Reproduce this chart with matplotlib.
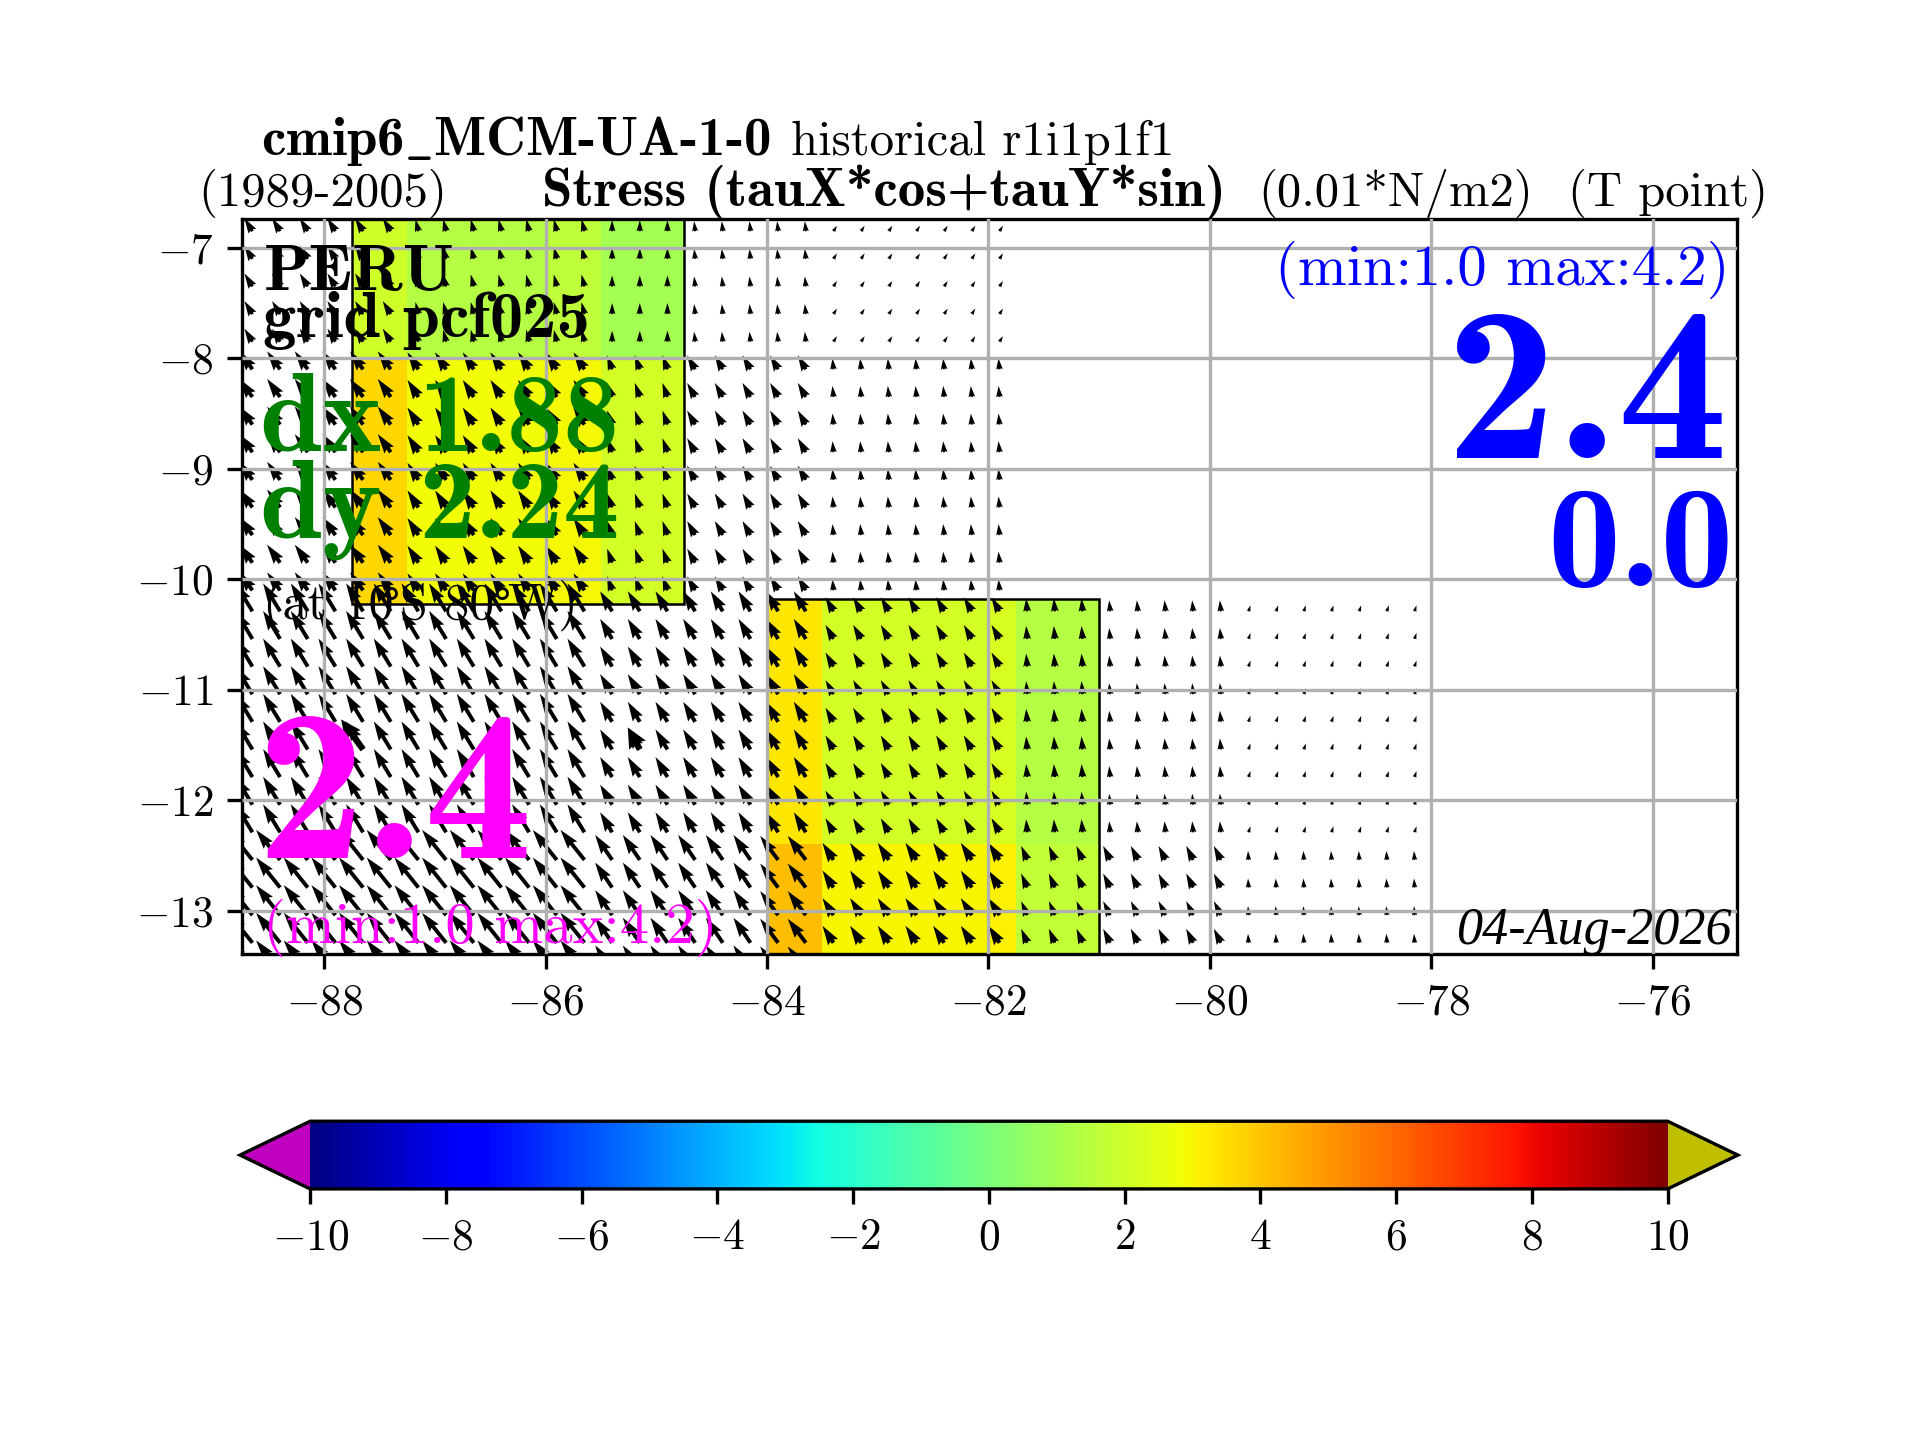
import numpy as np
import matplotlib
matplotlib.use("Agg")
import matplotlib.pyplot as plt
from matplotlib.patches import Rectangle

plt.rcParams['mathtext.fontset'] = 'cm'
plt.rcParams['font.family'] = 'cmr10'
plt.rcParams['axes.unicode_minus'] = False
plt.rcParams['axes.formatter.use_mathtext'] = True

# shaded boxes (0.01*N/m2)
north_x = [-87.75, -87.25, -86.0, -85.5, -84.75]
north_y = [-10.22, -8.0, -6.74]
north_val = [[3.65, 2.85, 2.9, 2.05],
             [2.0, 1.4, 1.6, 1.0]]
south_x = [-84.0, -83.5, -82.0, -81.75, -81.0]
south_y = [-13.39, -12.4, -10.18]
south_val = [[4.2, 3.0, 3.05, 1.7],
             [3.35, 2.1, 2.2, 1.4]]

# wind stress arrows, blocks of equal value
lon_north = [-88.65, -88.4, -88.15, -87.9, -87.65, -87.4, -87.15, -86.9, -86.65, -86.4,
             -86.15, -85.9, -85.65, -85.4, -85.15, -84.9, -84.65, -84.4, -84.15, -83.9,
             -83.65, -83.4, -83.15, -82.9, -82.65, -82.4, -82.15, -81.9]
lon_south = lon_north + [-81.65, -81.4, -81.15, -80.9, -80.65, -80.4, -80.15, -79.9, -79.65,
                         -79.4, -79.15, -78.9, -78.65, -78.4, -78.15]
lat_north = [-6.85, -7.1, -7.35, -7.6, -7.85, -8.1, -8.35, -8.6, -8.85, -9.1, -9.35, -9.6, -9.85, -10.1]
lat_south = [-10.29, -10.54, -10.79, -11.04, -11.29, -11.54, -11.79, -12.04, -12.29,
             -12.54, -12.79, -13.04, -13.29, -13.54]

north_cols = [6, 7, 3, 5, 7]
north_rows = [5, 9]
north_u = [[-0.8, -0.3, 0.0, -0.1, 0.35],
           [-1.3, -1.1, -0.5, -0.8, -0.1]]
north_v = [[1.3, 1.2, 1.1, 1.0, 0.55],
           [1.8, 1.7, 1.4, 1.4, 1.1]]

south_cols = [13, 6, 2, 7, 3, 5, 7]
south_rows = [9, 5]
south_u = [[-1.7, -1.2, -1.2, -0.8, -0.1, -0.1, 0.2],
           [-2.4, -1.7, -1.8, -1.1, -0.6, -0.7, -0.05]]
south_v = [[2.8, 2.0, 2.0, 1.4, 1.3, 1.1, 0.6],
           [3.0, 2.5, 2.4, 1.7, 1.4, 1.4, 0.9]]

# the two heavier arrows
mark_lon = [-87.65, -85.15]
mark_lat = [-11.54, -11.54]
mark_u = [-2.2, -1.2]
mark_v = [3.0, 2.2]

xtick_vals = [-88, -86, -84, -82, -80, -78, -76]
ytick_vals = [-13, -12, -11, -10, -9, -8, -7]
cbar_ticks = [-10, -8, -6, -4, -2, 0, 2, 4, 6, 8, 10]

W, H = 1560.0, 1170.0

fig = plt.figure(figsize=(6.4, 4.8), dpi=300)
ax = fig.add_axes([197/W, (H-775)/H, 1214/W, 597/H])

cmap = plt.get_cmap('jet').copy()
cmap.set_under((0.75, 0, 0.75))
cmap.set_over((0.75, 0.75, 0))

pc = ax.pcolormesh(north_x, north_y, north_val, cmap=cmap, vmin=-10, vmax=10)
ax.pcolormesh(south_x, south_y, south_val, cmap=cmap, vmin=-10, vmax=10)
for xs, ys in [(north_x, north_y), (south_x, south_y)]:
    ax.add_patch(Rectangle((xs[0], ys[0]), xs[-1]-xs[0], ys[-1]-ys[0], fill=False, ec='k', lw=0.6, zorder=1.5))

def expand(table, rows, cols):
    return np.repeat(np.repeat(np.array(table), rows, axis=0), cols, axis=1)

qkw = dict(angles='uv', scale_units='inches', scale=30, units='inches', width=0.013, zorder=2, color='k')
X, Y = np.meshgrid(lon_north, lat_north)
ax.quiver(X, Y, expand(north_u, north_rows, north_cols), expand(north_v, north_rows, north_cols), **qkw)
X, Y = np.meshgrid(lon_south, lat_south)
ax.quiver(X, Y, expand(south_u, south_rows, south_cols), expand(south_v, south_rows, south_cols), **qkw)
qkw['width'] = 0.021
ax.quiver(mark_lon, mark_lat, mark_u, mark_v, headlength=3.2, headaxislength=2.9, **qkw)

ax.set_xlim(-88.74, -75.24)
ax.set_ylim(-13.39, -6.74)
ax.set_xticks(xtick_vals)
ax.set_xticklabels(['$%d$' % t for t in xtick_vals])
ax.set_yticks(ytick_vals)
ax.set_yticklabels(['$%d$' % t for t in ytick_vals])
ax.tick_params(labelsize=10.4)
ax.grid(True)
ax.set_axisbelow(False)

tkw = dict(transform=ax.transAxes, zorder=5)
ax.text(0.014, 0.903, 'PERU', fontsize=16, family='cmb10', **tkw)
ax.text(0.014, 0.839, 'grid pcf025', fontsize=16, family='cmb10', **tkw)
ax.text(0.012, 0.685, 'dx 1.88', fontsize=27, family='cmb10', color='green', **tkw)
ax.text(0.012, 0.566, 'dy 2.24', fontsize=27, family='cmb10', color='green', **tkw)
at_x = [0.014, 0.093, 0.1054, 0.167, 0.177]
at_s = ['(at 10', '\N{DEGREE SIGN}', 'S 80', '\N{DEGREE SIGN}', 'W)']
for x, s in zip(at_x, at_s):
    fam = 'DejaVu Serif' if s == '\N{DEGREE SIGN}' else 'cmr10'
    ax.text(x, 0.456, s, fontsize=10 if fam != 'cmr10' else 12, family=fam, **tkw)
ax.text(0.009, 0.131, '2.4', fontsize=52, family='cmb10', color='magenta', **tkw)
ax.text(0.014, 0.015, '(min:1.0 max:4.2)', fontsize=14.1, color='magenta', **tkw)
ax.text(0.995, 0.91, '(min:1.0 max:4.2)', fontsize=14.1, color='blue', ha='right', **tkw)
ax.text(0.994, 0.675, '2.4', fontsize=53, family='cmb10', color='blue', ha='right', **tkw)
ax.text(0.998, 0.50, '0.0', fontsize=35, family='cmb10', color='blue', ha='right', **tkw)
ax.text(0.997, 0.013, '04-Aug-2026', fontsize=12.5, family='Liberation Serif', style='italic', ha='right', **tkw)

def head(x, y, s, size=11.7, **kw):
    fig.text(x/W, (H-y)/H, s, fontsize=size, **kw)

head(212, 126, r'cmip6$\_$MCM-UA-1-0', size=13.2, family='cmb10')
head(643, 126, 'historical r1i1p1f1')
head(161, 167, '(1989-2005)')
head(440, 167, 'Stress (tauX*cos+tauY*sin)', size=13.2, family='cmb10')
head(1022, 167, '(0.01*N/m2)')
head(1274, 167, '(T point)')

cax = fig.add_axes([195/W, (H-966)/H, 1217/W, 55/H])
cb = fig.colorbar(pc, cax=cax, orientation='horizontal', extend='both', extendfrac=0.0517, ticks=cbar_ticks)
cb.ax.set_xticklabels(['$%d$' % t for t in cbar_ticks])
cb.ax.tick_params(labelsize=10.4)

fig.savefig('out.png', dpi=300)
